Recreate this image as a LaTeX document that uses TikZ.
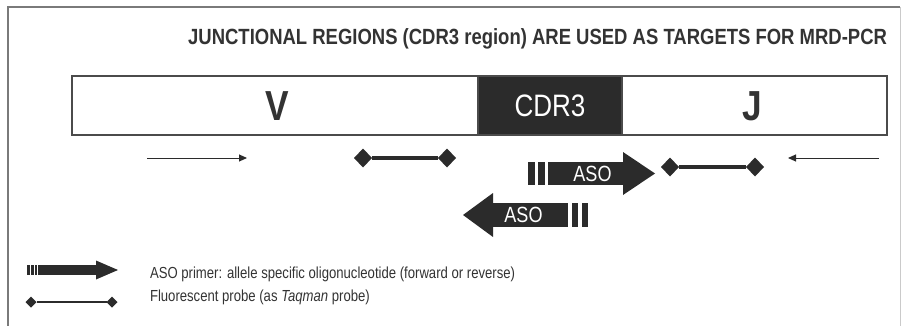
\documentclass[tikz,border=0pt]{standalone}
\usepackage{fontspec}
\setmainfont{Liberation Sans}
\newfontfamily\titlefont[FakeStretch=0.84]{Liberation Sans}
\newfontfamily\narrowfont[FakeStretch=0.82]{Liberation Sans}
\usetikzlibrary{arrows.meta,calc,shapes.geometric}
\definecolor{inkgray}{HTML}{2B2B2B}
\definecolor{txtgray}{HTML}{333333}
\definecolor{framegray}{HTML}{7A7A7A}
\begin{document}
\begin{tikzpicture}[x=1pt,y=-1pt,inner sep=0pt,outer sep=0pt,
segbox/.style={draw=inkgray!85,rectangle,line width=1.8pt,minimum height=59pt},
dmd/.style={diamond,fill=inkgray,minimum width=18pt,minimum height=19pt},
probeline/.style={draw=inkgray,line width=3.2pt},
primer/.style={draw=inkgray,line width=1pt,-{Triangle[length=8pt,width=7pt]}},
asobody/.style={fill=inkgray,rectangle,text=white,font=\narrowfont\fontsize{22}{22}\selectfont},
asofill/.style={fill=inkgray}]
\useasboundingbox (0,0) rectangle (904,326);
% frame
\draw[framegray,line width=1.4pt] (8,326) -- (8,7) -- (900,7);
\draw[framegray!40,line width=0.8pt] (900,7) -- (900,326);
\node[anchor=base east,text=txtgray,font=\titlefont\bfseries\fontsize{22}{22}\selectfont] (title) at (887,45)
 {JUNCTIONAL REGIONS (CDR3 region) ARE USED AS TARGETS FOR MRD-PCR};
% gene segments
\node[segbox,minimum width=406pt,anchor=west] (V) at (72,105.5) {};
\node[segbox,fill=inkgray,minimum width=144pt,anchor=west] (CDR) at (V.east) {};
\node[segbox,minimum width=265pt,anchor=west] (J) at (CDR.east) {};
\node[text=txtgray,font=\titlefont\bfseries\fontsize{42}{42}\selectfont] (Vlab) at (277,106) {V};
\node[text=txtgray,font=\titlefont\bfseries\fontsize{42}{42}\selectfont] (Jlab) at (752,106) {J};
\node[text=white,font=\titlefont\fontsize{31}{31}\selectfont] (CDRlab) at (550,106) {CDR3};
% primers
\coordinate (fwdS) at (147,158);
\coordinate (fwdE) at (247,158);
\draw[primer] (fwdS) -- (fwdE);
\coordinate (revS) at (879,158);
\coordinate (revE) at (788,158);
\draw[primer] (revS) -- (revE);
% probes
\node[dmd] (p1a) at (363,158) {};
\node[dmd] (p1b) at (447,158) {};
\draw[probeline] (p1a) -- (p1b);
\node[dmd] (p2a) at (670,167) {};
\node[dmd] (p2b) at (755,167) {};
\draw[probeline] (p2a) -- (p2b);
% forward ASO
\node[asobody,minimum width=75pt,minimum height=23pt] (aso1) at (585.5,173.5) {\hspace*{14pt}ASO};
\fill[asofill] (aso1.north east) -- ++(0,-10) -- ($(aso1.east)+(32,0)$) -- ($(aso1.south east)+(0,10)$) -- (aso1.south east) -- cycle;
\fill[asofill] ($(aso1.north west)+(-20,0)$) rectangle ++(7,23);
\fill[asofill] ($(aso1.north west)+(-10,0)$) rectangle ++(7,23);
% reverse ASO
\node[asobody,minimum width=75pt,minimum height=24pt] (aso2) at (530.5,215) {ASO\hspace*{14pt}};
\fill[asofill] (aso2.north west) -- ++(0,-10) -- ($(aso2.west)+(-30,0)$) -- ($(aso2.south west)+(0,10)$) -- (aso2.south west) -- cycle;
\fill[asofill] ($(aso2.north east)+(4,0)$) rectangle ++(6,24);
\fill[asofill] ($(aso2.north east)+(14,0)$) rectangle ++(6,24);
% legend
\node[asobody,minimum width=58pt,minimum height=10pt] (legaso) at (67,270) {};
\fill[asofill] (legaso.north east) -- ++(0,-4.5) -- ($(legaso.east)+(22,0)$) -- ($(legaso.south east)+(0,4.5)$) -- (legaso.south east) -- cycle;
\fill[asofill] ($(legaso.north west)+(-3,0)$) rectangle ++(2,10);
\fill[asofill] ($(legaso.north west)+(-7,0)$) rectangle ++(2.5,10);
\fill[asofill] ($(legaso.north west)+(-11,0)$) rectangle ++(2.5,10);
\node[dmd,minimum width=11pt,minimum height=11pt] (lpa) at (31,302) {};
\node[dmd,minimum width=11pt,minimum height=11pt] (lpb) at (112,302) {};
\draw[draw=inkgray,line width=1.4pt] (lpa) -- (lpb);
\node[anchor=base west,text=txtgray,font=\narrowfont\fontsize{16}{16}\selectfont] (legtxt1) at (150,278)
 {ASO primer: allele specific oligonucleotide (forward or reverse)};
\node[anchor=base west,text=txtgray,font=\narrowfont\fontsize{16}{16}\selectfont] (legtxt2) at (150,301)
 {Fluorescent probe (as \textit{Taqman} probe)};
\end{tikzpicture}
\end{document}
